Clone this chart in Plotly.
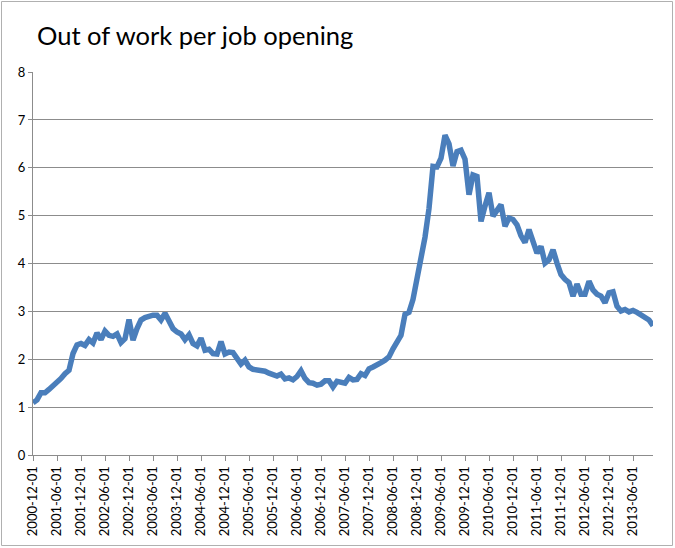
import pandas as pd
import plotly.graph_objects as go

# Monthly categories Dec 2000 .. Nov 2013
months = [d.strftime("%Y-%m-%d") for d in pd.date_range("2000-12-01", "2013-11-01", freq="MS")]

ratio_2001 = [1.09, 1.15, 1.30, 1.30, 1.37, 1.44, 1.53, 1.60, 1.70, 1.77, 2.12, 2.30]
ratio_2002 = [2.33, 2.29, 2.41, 2.34, 2.55, 2.41, 2.59, 2.50, 2.48, 2.53, 2.35, 2.43]
ratio_2003 = [2.83, 2.40, 2.64, 2.82, 2.87, 2.90, 2.92, 2.92, 2.82, 2.96, 2.78, 2.64]
ratio_2004 = [2.57, 2.53, 2.41, 2.51, 2.33, 2.28, 2.44, 2.19, 2.21, 2.12, 2.11, 2.37]
ratio_2005 = [2.11, 2.15, 2.14, 2.00, 1.90, 1.98, 1.84, 1.79, 1.78, 1.77, 1.75, 1.71]
ratio_2006 = [1.69, 1.65, 1.69, 1.59, 1.61, 1.57, 1.64, 1.76, 1.60, 1.51, 1.50, 1.46]
ratio_2007 = [1.48, 1.55, 1.55, 1.42, 1.54, 1.53, 1.50, 1.62, 1.57, 1.58, 1.70, 1.66]
ratio_2008 = [1.80, 1.84, 1.87, 1.93, 1.98, 2.05, 2.22, 2.36, 2.50, 2.94, 2.98, 3.25]
ratio_2009 = [3.65, 4.05, 4.55, 5.15, 6.03, 6.02, 6.20, 6.68, 6.50, 6.04, 6.34, 6.37]
ratio_2010 = [6.18, 5.44, 5.85, 5.82, 4.88, 5.20, 5.48, 4.99, 5.12, 5.23, 4.78, 4.95]
ratio_2011 = [4.92, 4.81, 4.58, 4.44, 4.71, 4.50, 4.22, 4.36, 4.01, 4.08, 4.29, 4.01]
ratio_2012 = [3.77, 3.67, 3.60, 3.32, 3.57, 3.36, 3.36, 3.63, 3.45, 3.36, 3.32, 3.18]
ratio_2013 = [3.39, 3.41, 3.11, 3.01, 3.04, 2.99, 3.02, 2.98, 2.93, 2.88, 2.82, 2.70]

values = (ratio_2001 + ratio_2002 + ratio_2003 + ratio_2004 + ratio_2005 + ratio_2006
          + ratio_2007 + ratio_2008 + ratio_2009 + ratio_2010 + ratio_2011 + ratio_2012
          + ratio_2013)

tick_labels = months[::6]
y_ticks = [0, 1, 2, 3, 4, 5, 6, 7, 8]

FONT = "Lato, 'Open Sans', sans-serif"
GRID = "#8c8c8c"

L, R, T, B = 33, 22, 72, 93
W, H = 675, 548
PW, PH = W - L - R, H - T - B

fig = go.Figure()
fig.add_trace(go.Scatter(
    x=months, y=values, mode="lines",
    line=dict(color="#4a7ebb", width=5.5),
    hoverinfo="x+y", showlegend=False,
))

fig.update_layout(
    width=W, height=H,
    margin=dict(l=L, r=R, t=T, b=B, autoexpand=False),
    paper_bgcolor="white", plot_bgcolor="white",
    title=dict(text="Out of work per job opening", x=37 / W, xanchor="left",
               y=1 - 36 / H, yanchor="middle",
               font=dict(family=FONT, size=25.5, color="black")),
    font=dict(family=FONT, size=13, color="black"),
)

fig.update_xaxes(
    type="category", range=[0, len(months) - 1], automargin=False,
    tickmode="array", tickvals=tick_labels, ticktext=tick_labels,
    tickangle=-90, ticks="outside", ticklen=5, tickcolor=GRID,
    showline=True, linecolor=GRID, linewidth=1,
    showgrid=False, zeroline=False,
    tickfont=dict(family=FONT, size=13, color="black"),
)
fig.update_yaxes(
    range=[0, 8.002], automargin=False, tickmode="array", tickvals=y_ticks,
    ticks="outside", ticklen=4, tickcolor=GRID,
    showline=True, linecolor=GRID, linewidth=1,
    showgrid=True, gridcolor=GRID, gridwidth=1,
    zeroline=False,
    tickfont=dict(family=FONT, size=13, color="black"),
)

# chart-area border
fig.add_shape(type="rect", xref="paper", yref="paper",
              x0=(1.5 - L) / PW, x1=1 + (R - 2.5) / PW,
              y0=-(B - 2.5) / PH, y1=1 + (T - 1.5) / PH,
              line=dict(color="#b0b0b0", width=1), fillcolor="rgba(0,0,0,0)",
              layer="below")

fig.write_html("out.html", config={"displayModeBar": False},
               post_script="document.body.style.margin='0';")
